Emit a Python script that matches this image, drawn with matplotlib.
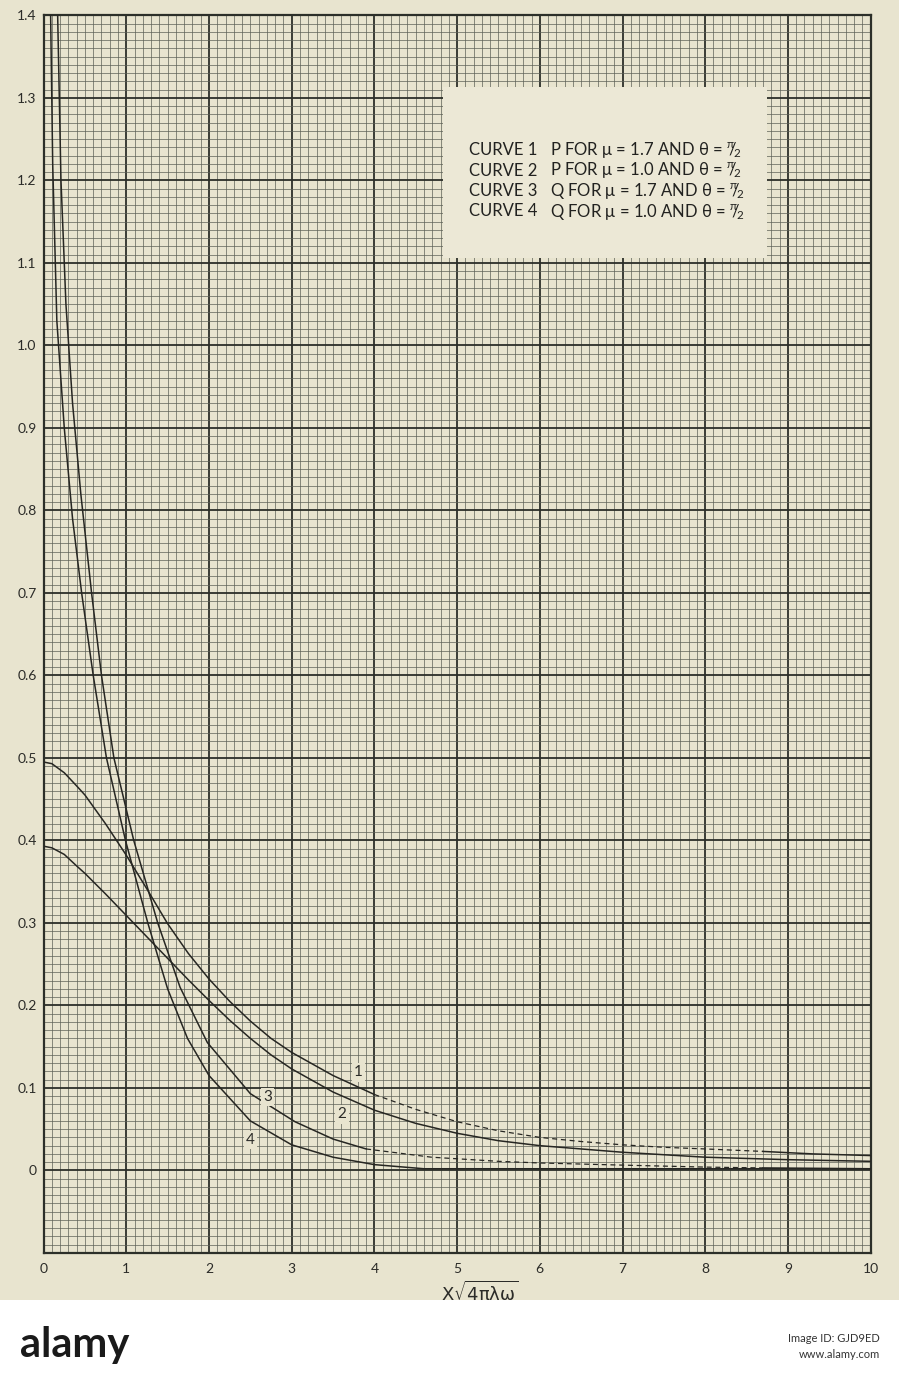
import numpy as np
import matplotlib
matplotlib.use("Agg")
import matplotlib.pyplot as plt
from matplotlib.patches import Rectangle
from matplotlib.ticker import MultipleLocator

plt.rcParams["font.family"] = ["Lato", "DejaVu Sans"]
plt.rcParams["mathtext.fontset"] = "dejavusans"

PAPER = "#e8e4cf"
INK = "#2c2f29"
MINOR = "#5d6157"
CURVE = "#262622"

# values
# curve 1: P for mu = 1.7
c1_x = [0, 0.1, 0.25, 0.4, 0.5, 0.75, 1.0, 1.25, 1.5, 1.75, 2.0, 2.25, 2.5, 2.75, 3.0, 3.5,
        4.0, 4.5, 5.0, 5.5, 6.0, 6.5, 7.0, 7.5, 8.0, 8.7, 9.3, 10.0]
c1_y = [0.495, 0.493, 0.482, 0.466, 0.455, 0.420, 0.382, 0.341, 0.299, 0.263, 0.232, 0.205,
        0.181, 0.160, 0.143, 0.115, 0.092, 0.074, 0.059, 0.048, 0.040, 0.035, 0.031, 0.028,
        0.026, 0.023, 0.020, 0.018]
# curve 2: P for mu = 1.0
c2_x = [0, 0.1, 0.25, 0.4, 0.5, 0.75, 1.0, 1.25, 1.5, 1.75, 2.0, 2.25, 2.5, 2.75, 3.0, 3.5,
        4.0, 4.5, 5.0, 5.5, 6.0, 7.0, 8.0, 9.0, 10.0]
c2_y = [0.393, 0.391, 0.383, 0.369, 0.360, 0.335, 0.309, 0.283, 0.257, 0.231, 0.206, 0.182,
        0.160, 0.140, 0.123, 0.095, 0.073, 0.057, 0.045, 0.036, 0.030, 0.022, 0.016, 0.013,
        0.011]
# curve 3: Q for mu = 1.7
c3_x = [0.17, 0.21, 0.27, 0.35, 0.45, 0.58, 0.70, 0.85, 1.09, 1.38, 1.65, 1.98, 2.5, 3.04,
        3.5, 3.9, 4.69, 5.5, 6.0, 7.0, 8.0, 8.7, 10.0]
c3_y = [1.40, 1.20, 1.05, 0.93, 0.82, 0.70, 0.60, 0.50, 0.40, 0.30, 0.222, 0.155, 0.093,
        0.059, 0.038, 0.026, 0.016, 0.011, 0.009, 0.0064, 0.004, 0.003, 0.002]
# curve 4: Q for mu = 1.0
c4_x = [0.085, 0.11, 0.16, 0.25, 0.35, 0.46, 0.60, 0.76, 0.99, 1.26, 1.50, 1.74, 2.0, 2.5,
        3.0, 3.5, 4.0, 4.6, 10.0]
c4_y = [1.40, 1.22, 1.03, 0.90, 0.79, 0.70, 0.60, 0.50, 0.40, 0.30, 0.220, 0.160, 0.115,
        0.060, 0.031, 0.016, 0.007, 0.002, 0.002]

# x ranges drawn dashed on each curve (None = all solid)
dashed_span = {1: (4.0, 8.7), 2: None, 3: (3.9, 8.7), 4: None}

curve_names = ["1", "2", "3", "4"]
label_x = [3.81, 3.61, 2.71, 2.50]
label_y = [0.119, 0.068, 0.089, 0.037]

HALF_PI = r"$\mathregular{^{\pi}\!\!/\!_{2}}$"
legend_lines = [
    ("CURVE 1", "P FOR \u03bc = 1.7 AND \u03b8 = " + HALF_PI),
    ("CURVE 2", "P FOR \u03bc = 1.0 AND \u03b8 = " + HALF_PI),
    ("CURVE 3", "Q FOR \u03bc = 1.7 AND \u03b8 = " + HALF_PI),
    ("CURVE 4", "Q FOR \u03bc = 1.0 AND \u03b8 = " + HALF_PI),
]

x_ticks = [0, 1, 2, 3, 4, 5, 6, 7, 8, 9, 10]
x_tick_labels = ["0", "1", "2", "3", "4", "5", "6", "7", "8", "9", "10"]
y_ticks = [0, 0.1, 0.2, 0.3, 0.4, 0.5, 0.6, 0.7, 0.8, 0.9, 1.0, 1.1, 1.2, 1.3, 1.4]
y_tick_labels = ["0", "0.1", "0.2", "0.3", "0.4", "0.5", "0.6", "0.7", "0.8", "0.9",
                 "1.0", "1.1", "1.2", "1.3", "1.4"]

W, H = 899, 1390
fig = plt.figure(figsize=(W / 100, H / 100), dpi=100, facecolor=PAPER)
ax = fig.add_axes([43.6 / W, 1 - 1252.9 / H, 827 / W, 1237.5 / H])
ax.set_facecolor(PAPER)
ax.set_xlim(0, 10)
ax.set_ylim(-0.1, 1.4)

ax.set_xticks(x_ticks)
ax.set_xticklabels(x_tick_labels)
ax.set_yticks(y_ticks)
ax.set_yticklabels(y_tick_labels)
ax.xaxis.set_minor_locator(MultipleLocator(0.1))
ax.yaxis.set_minor_locator(MultipleLocator(0.01))
ax.tick_params(which="both", length=0, labelsize=10, labelcolor="#2b2b28")
ax.tick_params(axis="x", pad=7)
ax.tick_params(axis="y", pad=5)
ax.grid(which="minor", color=MINOR, lw=0.5)
ax.grid(which="major", color=INK, lw=1.3)
ax.set_axisbelow(True)
for sp in ax.spines.values():
    sp.set_color(INK)
    sp.set_linewidth(1.6)

for i, (xs, ys) in enumerate([(c1_x, c1_y), (c2_x, c2_y), (c3_x, c3_y), (c4_x, c4_y)], 1):
    xs = np.asarray(xs)
    ys = np.asarray(ys)
    span = dashed_span[i]
    if span is None:
        ax.plot(xs, ys, color=CURVE, lw=1.1, zorder=3)
        continue
    a, b = span
    m1 = xs <= a
    m2 = (xs >= a) & (xs <= b)
    m3 = xs >= b
    ax.plot(xs[m1], ys[m1], color=CURVE, lw=1.1, zorder=3)
    ax.plot(xs[m2], ys[m2], color=CURVE, lw=0.9, ls=(0, (4, 3)), zorder=3)
    ax.plot(xs[m3], ys[m3], color=CURVE, lw=1.1, zorder=3)

for name, lx, ly in zip(curve_names, label_x, label_y):
    ax.text(lx, ly, name, fontsize=11, color="#2b2b28", ha="center", va="center", zorder=4,
            bbox=dict(boxstyle="square,pad=0.15", fc=PAPER, ec="none"))

# legend card pasted on the sheet
fig.patches.append(Rectangle((443 / W, 1 - 258 / H), 324 / W, 171 / H,
                             transform=fig.transFigure, fc="#ece8d6", ec="none", zorder=5))
for k, (left, right) in enumerate(legend_lines):
    yy = 1 - (150 + 20.5 * k) / H
    fig.text(469 / W, yy, left, fontsize=12, color="#222220", va="center", zorder=6)
    fig.text(550 / W, yy, right, fontsize=12, color="#222220", va="center", zorder=6)

fig.text(480 / W, 1 - 1292 / H, r"$\mathrm{X}\sqrt{\mathrm{4\pi\lambda\omega}}$",
         fontsize=13, color="#2b2b28", ha="center", va="center")

# white strip along the bottom of the scan
fig.patches.append(Rectangle((0, 0), 1, 90 / H, transform=fig.transFigure,
                             fc="white", ec="none", zorder=5))
fig.text(20 / W, 45 / H, "alamy", fontsize=30, fontweight="bold", color="#1a1a1a",
         va="center", zorder=6)
fig.text(880 / W, 52 / H, "Image ID: GJD9ED", fontsize=8, color="#333333", ha="right",
         va="center", zorder=6)
fig.text(880 / W, 36 / H, "www.alamy.com", fontsize=8, color="#333333", ha="right",
         va="center", zorder=6)

fig.savefig("out.png", dpi=100, facecolor=PAPER)
